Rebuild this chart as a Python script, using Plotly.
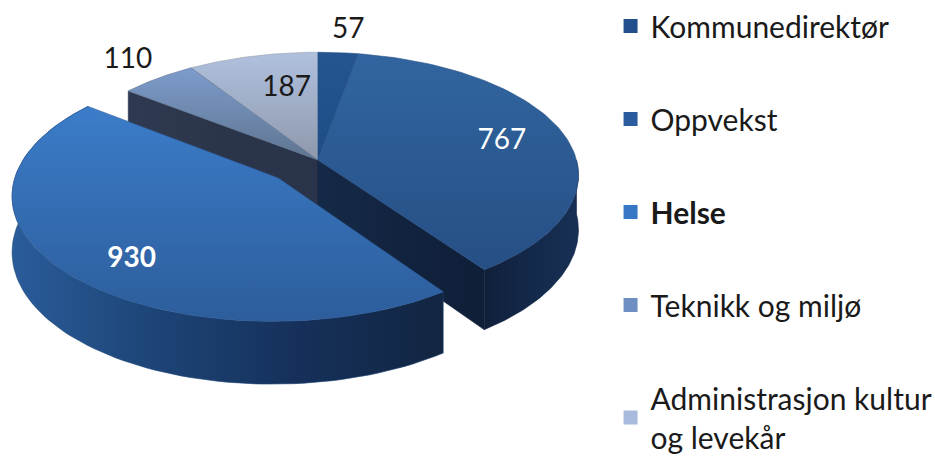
import numpy as np
import plotly.graph_objects as go

categories = ["Kommunedirektør", "Oppvekst", "Helse", "Teknikk og miljø", "Administrasjon kultur<br>og levekår"]
legend_names = ["Kommunedirektør", "Oppvekst", "<b>Helse</b>", "Teknikk og miljø", "Administrasjon kultur<br>og levekår"]
values = [57, 767, 930, 110, 187]
label_texts = ["57", "767", "<b>930</b>", "110", "187"]
label_colors = ["#1a1a1a", "white", "white", "#1a1a1a", "#1a1a1a"]

# colours listed bottom -> top of each slice's top surface
top_scales = [
    ["#1f4e86", "#24558f"],
    ["#264f85", "#31659f"],
    ["#2d5d9b", "#3b7cc9"],
    ["#5f7590", "#7d9ccc"],
    ["#8e98ac", "#b0c1de"],
]
legend_colors = ["#21508c", "#2a5c9e", "#3678c6", "#6f8fc2", "#a9bbdc"]

# projection of the pie plane
CX, CY, A, B, K, H = 318.0, 160.0, 258.5, 121.0, 0.123, 54.0
EXPLODE = 0.21
FONT = "Lato"

total = sum(values)
edges = np.concatenate([[0], np.cumsum(values)]) / total * 2 * np.pi


def project(wx, wz, drop=0.0):
    d = 1 + K * wz
    return CX + A * wx / d, CY - B * wz / d + drop / d


def offset(i):
    if i != 2:
        return 0.0, 0.0
    m = (edges[i] + edges[i + 1]) / 2
    return EXPLODE * np.sin(m), EXPLODE * np.cos(m)


def arc(i, t0=None, t1=None):
    t0 = edges[i] if t0 is None else t0
    t1 = edges[i + 1] if t1 is None else t1
    t = np.linspace(t0, t1, 90)
    ox, oz = offset(i)
    return np.sin(t) + ox, np.cos(t) + oz


def poly(fig, x, y, stops, kind="vertical"):
    n = len(stops) - 1
    fig.add_trace(go.Scatter(
        x=list(x) + [x[0]], y=list(y) + [y[0]], mode="lines", fill="toself",
        line=dict(width=0.6, color=stops[n // 2]), hoverinfo="skip", showlegend=False,
        fillgradient=dict(type=kind, colorscale=[[j / n, c] for j, c in enumerate(stops)]),
    ))


def top(fig, i):
    wx, wz = arc(i)
    ox, oz = offset(i)
    x, y = project(np.r_[ox, wx], np.r_[oz, wz])
    poly(fig, x, y, top_scales[i])


def radial_face(fig, i, t, stops):
    ox, oz = offset(i)
    ex, ez = np.sin(t) + ox, np.cos(t) + oz
    x0, y0 = project(np.array([ox, ex]), np.array([oz, ez]))
    x1, y1 = project(np.array([ex, ox]), np.array([ez, oz]), H)
    poly(fig, np.r_[x0, x1], np.r_[y0, y1], stops, "horizontal")


def wall(fig, i, t0, t1, stops):
    wx, wz = arc(i, t0, t1)
    x0, y0 = project(wx, wz)
    x1, y1 = project(wx[::-1], wz[::-1], H)
    poly(fig, np.r_[x0, x1], np.r_[y0, y1], stops, "horizontal")


fig = go.Figure()

# back to front
radial_face(fig, 3, edges[3], ["#2f3a52", "#2b354a", "#29334a"])
top(fig, 4)
top(fig, 3)
top(fig, 0)
radial_face(fig, 1, edges[2], ["#152a48", "#12233f", "#101f38"])
wall(fig, 1, np.pi / 2, edges[2], ["#10203a", "#14294a", "#173054"])
top(fig, 1)
wall(fig, 2, edges[2], edges[3], ["#2a5c9a", "#1d4476", "#15305a", "#122541"])
top(fig, 2)

# value labels
label_r = [1.30, 0.74, 0.80, 1.38, 0.80]
label_nudge = [(5, 6), (1, 1), (20, 8), (24, 10), (22, 14)]
lx, ly = [], []
for i in range(len(values)):
    m = (edges[i] + edges[i + 1]) / 2
    ox, oz = offset(i)
    px, py = project(label_r[i] * np.sin(m) + ox, label_r[i] * np.cos(m) + oz)
    lx.append(px + label_nudge[i][0])
    ly.append(py + label_nudge[i][1])
fig.add_trace(go.Scatter(
    x=lx, y=ly, mode="text", text=label_texts, hoverinfo="skip", showlegend=False,
    textfont=dict(family=FONT, size=28, color=label_colors),
))

# legend
for name, color in zip(legend_names, legend_colors):
    fig.add_trace(go.Scatter(
        x=[None], y=[None], mode="markers", name=name, legendgroup=name,
        marker=dict(symbol="square", size=16, color=color, line=dict(width=3, color=color)),
    ))

fig.update_layout(
    width=935, height=458, margin=dict(l=0, r=0, t=0, b=0, autoexpand=False),
    paper_bgcolor="white", plot_bgcolor="white",
    xaxis=dict(range=[0, 935], visible=False, fixedrange=True),
    yaxis=dict(range=[458, 0], visible=False, fixedrange=True),
    legend=dict(
        x=0.653, y=1.0, xanchor="left", yanchor="top", traceorder="grouped",
        tracegroupgap=51, itemsizing="constant", bgcolor="rgba(0,0,0,0)",
        font=dict(family=FONT, size=30, color="#1a1a1a"),
    ),
)
fig.write_html("out.html", config={"displayModeBar": False},
               post_script="document.body.style.margin='0';document.body.style.overflow='hidden';")
